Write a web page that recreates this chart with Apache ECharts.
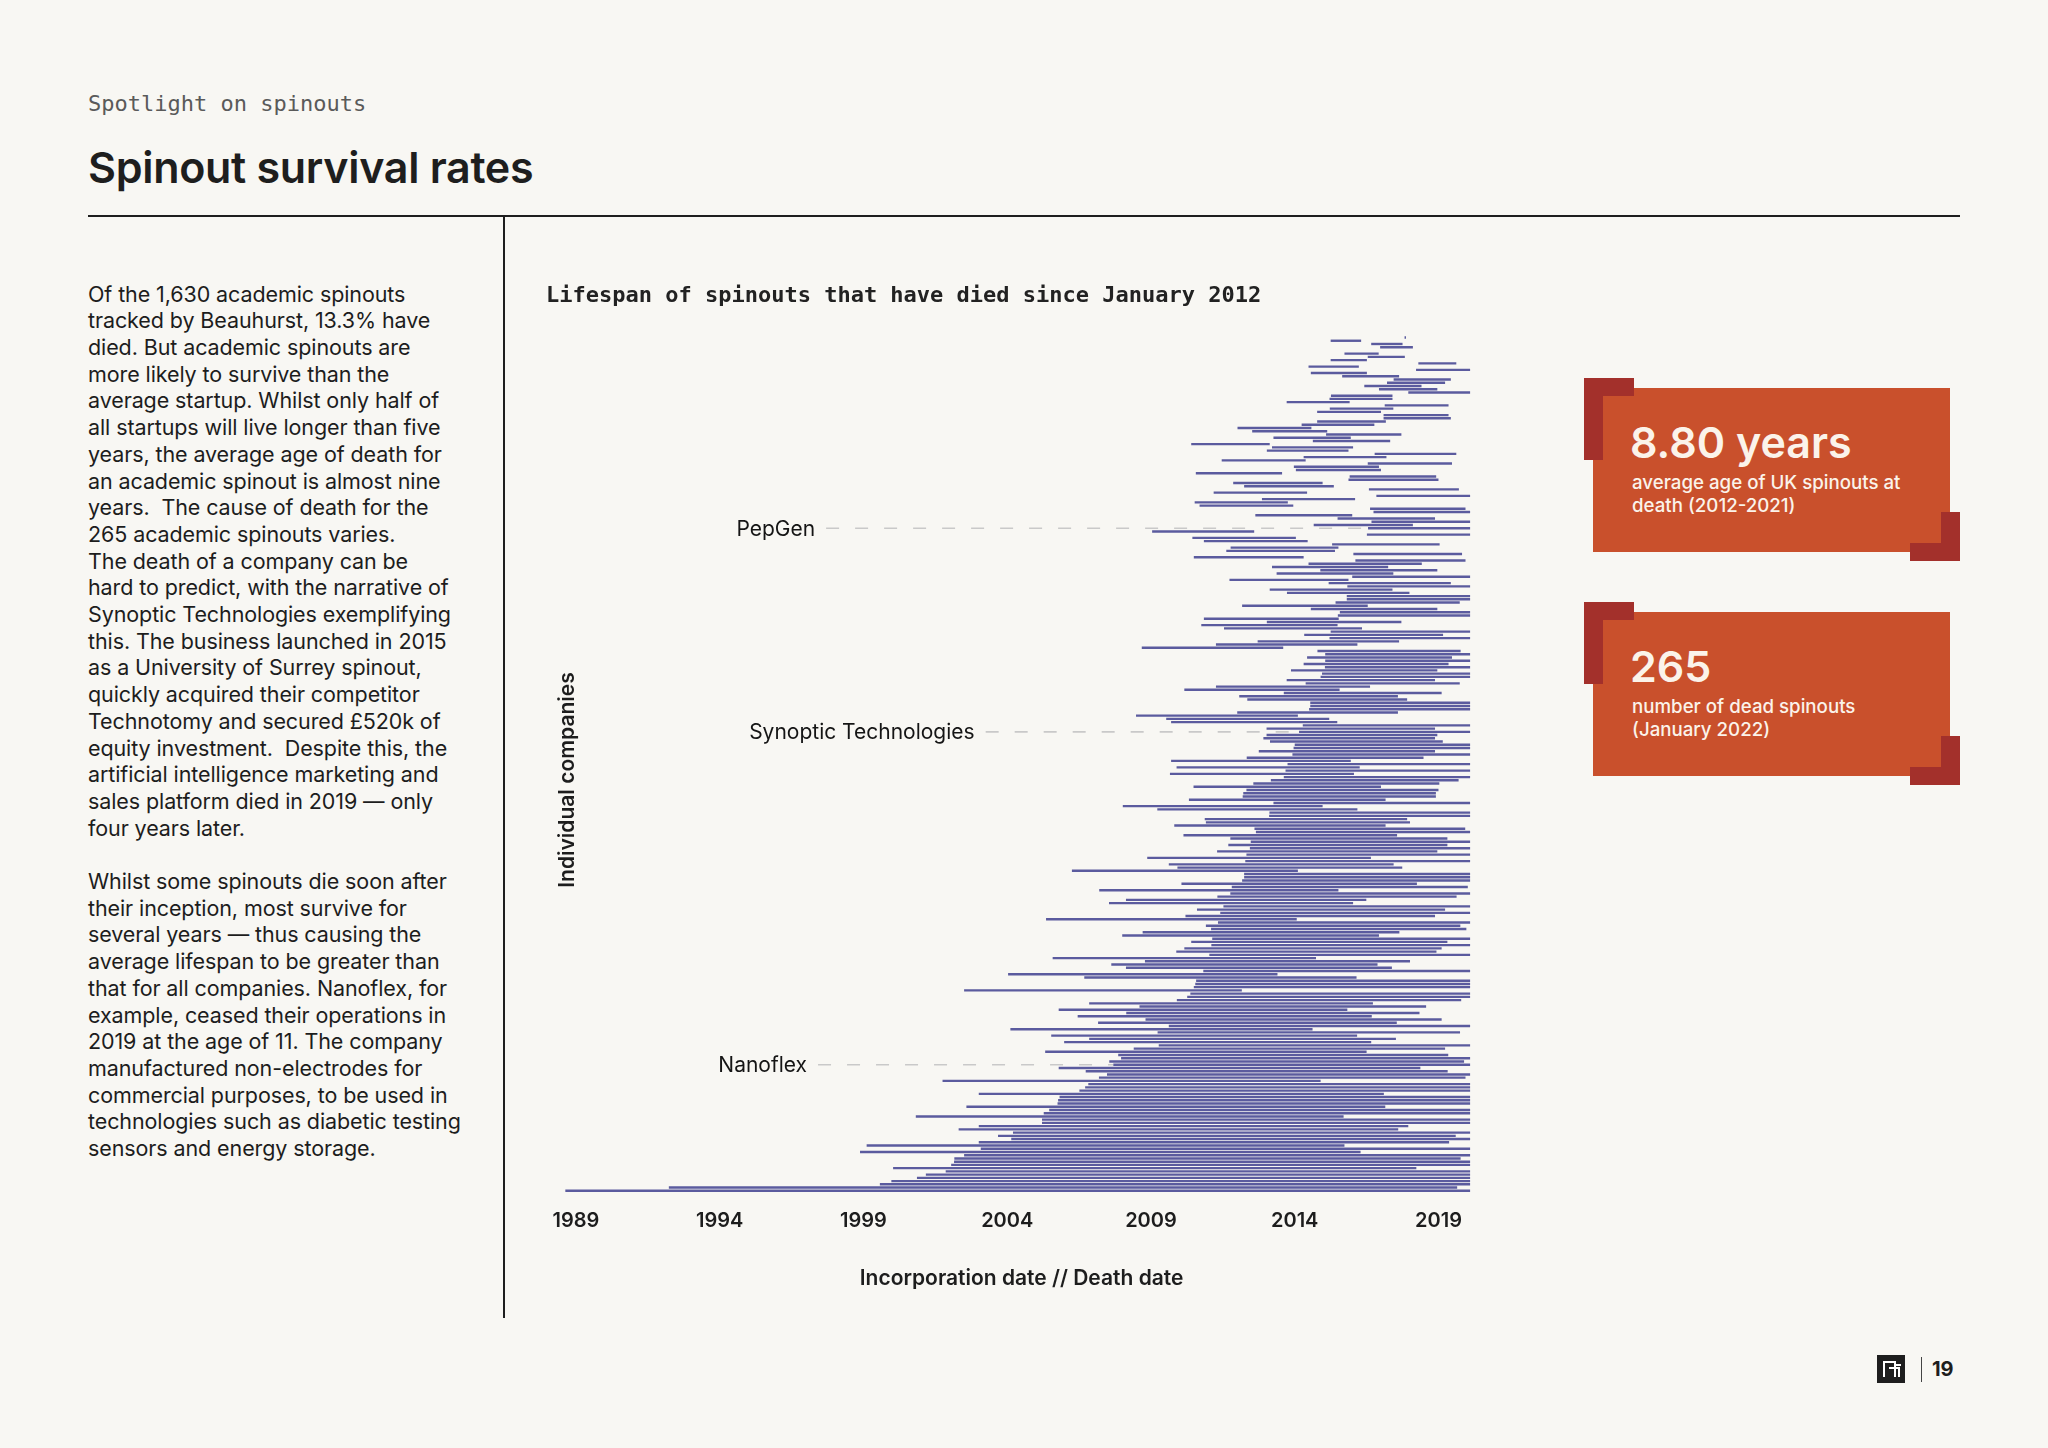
<!DOCTYPE html>
<html><head><meta charset="utf-8">
<script src="https://cdn.jsdelivr.net/npm/echarts@6/dist/echarts.min.js"></script>
<style>
html,body{margin:0;padding:0;width:2048px;height:1448px;background:#f8f7f3;overflow:hidden;}
#page{position:relative;width:2048px;height:1448px;}
#chart{position:absolute;left:0;top:0;width:2048px;height:1448px;}
.abs{position:absolute;white-space:pre;}
.kicker{left:88px;top:93px;font:22px/22px "DejaVu Sans Mono",monospace;color:#5a5a5a;}
.title{left:88px;top:142px;font:600 43px/50px Inter,sans-serif;color:#1e1e1e;letter-spacing:-0.3px;}
.rule{position:absolute;background:#1e1e1e;}
.body{left:88px;top:280.6px;font:400 21.5px/26.7px Inter,sans-serif;color:#1d1d1d;letter-spacing:-0.1px;}
.box{position:absolute;background:#c9502c;}
.br{position:absolute;background:#a3302b;}
.big{font:600 43px/50px Inter,sans-serif;color:#fbf3ea;}
.sub{font:500 18.7px/23.3px Inter,sans-serif;color:#fbf3ea;}
.pg{font:700 20px/26px Inter,sans-serif;color:#1e1e1e;}
</style></head>
<body><div id="page">
<div class="abs kicker">Spotlight on spinouts</div>
<div class="abs title">Spinout survival rates</div>
<div class="rule" style="left:88px;top:215px;width:1872px;height:2px;"></div>
<div class="rule" style="left:503px;top:216px;width:2px;height:1102px;"></div>
<div class="abs body">Of the 1,630 academic spinouts
tracked by Beauhurst, 13.3% have
died. But academic spinouts are
more likely to survive than the
average startup. Whilst only half of
all startups will live longer than five
years, the average age of death for
an academic spinout is almost nine
years.  The cause of death for the
265 academic spinouts varies.
The death of a company can be
hard to predict, with the narrative of
Synoptic Technologies exemplifying
this. The business launched in 2015
as a University of Surrey spinout,
quickly acquired their competitor
Technotomy and secured £520k of
equity investment.  Despite this, the
artificial intelligence marketing and
sales platform died in 2019 — only
four years later.

Whilst some spinouts die soon after
their inception, most survive for
several years — thus causing the
average lifespan to be greater than
that for all companies. Nanoflex, for
example, ceased their operations in
2019 at the age of 11. The company
manufactured non-electrodes for
commercial purposes, to be used in
technologies such as diabetic testing
sensors and energy storage.</div>

<div class="box" style="left:1593px;top:388px;width:357px;height:164px;"></div>
<div class="br" style="left:1584px;top:378px;width:50px;height:18px;"></div>
<div class="br" style="left:1584px;top:378px;width:19px;height:82px;"></div>
<div class="br" style="left:1941px;top:512px;width:19px;height:49px;"></div>
<div class="br" style="left:1910px;top:543px;width:50px;height:18px;"></div>
<div class="abs big" style="left:1630px;top:417px;">8.80 years</div>
<div class="abs sub" style="left:1632px;top:471px;">average age of UK spinouts at
death (2012-2021)</div>

<div class="box" style="left:1593px;top:612px;width:357px;height:164px;"></div>
<div class="br" style="left:1584px;top:602px;width:50px;height:18px;"></div>
<div class="br" style="left:1584px;top:602px;width:19px;height:82px;"></div>
<div class="br" style="left:1941px;top:736px;width:19px;height:49px;"></div>
<div class="br" style="left:1910px;top:767px;width:50px;height:18px;"></div>
<div class="abs big" style="left:1630px;top:641px;">265</div>
<div class="abs sub" style="left:1632px;top:695px;">number of dead spinouts
(January 2022)</div>

<div style="position:absolute;left:1877px;top:1355px;width:28px;height:28px;background:#1e1e1e;">
  <div style="position:absolute;left:6px;top:6px;width:13px;height:16px;border-top:2px solid #fff;border-left:2px solid #fff;border-right:2px solid #fff;box-sizing:border-box;"></div>
  <div style="position:absolute;left:12px;top:12px;width:11px;height:10px;border-top:2px solid #fff;border-right:2px solid #fff;box-sizing:border-box;"></div>
  <div style="position:absolute;left:19px;top:9px;width:5px;height:2px;background:#fff;"></div>
</div>
<div class="rule" style="left:1921px;top:1357px;width:1px;height:25px;background:#444;"></div>
<div class="abs pg" style="left:1932px;top:1356px;">19</div>

<div id="chart"></div>
</div>
<script>
// Incorporation (start) and death (end) dates, decimal years, top row first
const incorporation = [
2017.82,2015.25,2016.66,2016.97,2016.90,2015.73,2016.54,2015.25,2018.30,2014.48,
2018.22,2014.56,2015.65,2017.44,2017.21,2016.42,2016.93,2017.95,2015.26,2015.21,
2013.72,2017.13,2015.22,2014.78,2017.09,2017.09,2014.78,2014.24,2012.01,2012.52,
2015.09,2013.26,2014.63,2010.40,2013.21,2013.03,2016.78,2014.31,2011.46,2016.54,
2013.97,2014.04,2010.56,2015.91,2015.87,2011.86,2012.24,2016.58,2011.18,2016.84,
2012.86,2010.52,2010.69,2016.62,2016.74,2012.63,2015.49,2016.67,2014.66,2016.55,
2009.04,2016.51,2010.44,2010.84,2015.30,2011.77,2011.62,2016.04,2010.49,2016.11,
2014.48,2013.21,2014.89,2013.37,2016.00,2011.73,2015.18,2015.83,2013.13,2013.73,
2015.81,2015.81,2015.42,2012.17,2014.56,2015.57,2015.50,2010.84,2013.03,2010.75,
2011.54,2015.25,2014.33,2015.21,2012.71,2011.26,2008.68,2014.79,2015.06,2014.43,
2015.06,2014.31,2015.05,2013.87,2014.95,2014.90,2013.72,2014.38,2011.26,2010.16,
2013.62,2012.07,2012.35,2014.54,2014.54,2014.50,2012.00,2008.48,2009.53,2009.70,
2014.28,2013.02,2014.15,2013.02,2012.91,2013.14,2014.00,2013.96,2012.75,2013.92,
2012.33,2009.70,2013.75,2009.89,2013.68,2009.66,2013.62,2013.17,2012.56,2010.48,
2012.32,2012.21,2012.19,2010.32,2013.26,2008.02,2009.22,2013.12,2013.11,2010.87,
2010.91,2009.81,2012.60,2012.65,2010.13,2011.76,2012.47,2011.69,2012.44,2011.30,
2012.32,2008.87,2012.28,2009.62,2009.92,2006.25,2012.24,2012.24,2012.17,2010.06,
2011.81,2007.20,2011.76,2011.31,2008.13,2007.54,2011.52,2010.60,2011.41,2010.20,
2005.35,2011.33,2010.91,2011.09,2008.71,2008.00,2011.13,2010.40,2011.10,2010.16,
2009.88,2011.03,2005.58,2008.79,2007.62,2008.13,2010.82,2004.03,2006.68,2010.57,
2010.54,2010.49,2002.50,2010.37,2010.26,2009.90,2006.85,2008.60,2005.79,2008.14,
2006.45,2008.81,2007.16,2009.62,2004.11,2009.23,2005.53,2006.85,2005.98,2009.27,
2008.40,2005.32,2007.86,2007.96,2007.55,2007.69,2005.79,2006.73,2007.47,2007.19,
2001.75,2006.82,2006.71,2006.51,2003.01,2005.82,2005.77,2005.75,2002.58,2005.46,
2005.27,2000.82,2005.21,2005.21,2003.01,2002.31,2004.20,2003.68,2004.14,2003.01,
1999.11,2003.08,1998.88,2002.50,2002.16,2002.15,2002.05,2000.03,2001.86,2001.17,
2000.86,1999.97,1999.57,1992.23,1988.63
];
const death = [
2017.87,2016.31,2017.75,2018.11,2016.90,2016.92,2017.83,2016.51,2019.62,2016.23,
2020.10,2016.51,2017.63,2019.43,2019.23,2018.41,2018.96,2020.10,2017.40,2017.40,
2015.91,2019.35,2017.43,2017.00,2019.35,2019.43,2017.17,2016.77,2014.58,2015.13,
2017.71,2015.95,2017.32,2013.13,2016.03,2015.87,2019.62,2017.19,2014.38,2019.47,
2016.93,2017.00,2013.56,2018.92,2019.00,2014.97,2015.36,2019.71,2014.43,2020.10,
2016.10,2013.76,2013.95,2019.94,2020.10,2016.00,2018.88,2020.10,2018.11,2020.10,
2012.59,2020.10,2014.04,2014.45,2019.04,2015.52,2015.40,2019.82,2014.31,2019.94,
2018.42,2017.25,2018.96,2017.43,2020.10,2015.87,2019.43,2020.10,2017.40,2017.99,
2020.10,2020.10,2019.74,2016.54,2018.96,2020.10,2020.10,2015.53,2017.71,2015.49,
2016.34,2020.10,2019.16,2020.10,2017.63,2016.18,2013.60,2019.77,2020.10,2019.47,
2020.10,2019.35,2020.10,2018.96,2020.10,2020.10,2018.88,2019.74,2016.62,2015.56,
2019.11,2017.59,2017.91,2020.10,2020.10,2020.10,2017.59,2014.11,2015.20,2015.48,
2020.10,2018.88,2020.10,2018.96,2018.88,2019.15,2020.10,2020.10,2018.88,2020.10,
2018.48,2015.95,2020.10,2016.26,2020.10,2016.06,2020.10,2019.70,2019.03,2017.00,
2019.00,2018.91,2018.91,2017.16,2020.10,2014.97,2016.18,2020.10,2020.10,2017.91,
2018.01,2017.16,2019.93,2020.10,2017.56,2019.31,2020.10,2019.31,2020.10,2018.96,
2020.10,2016.65,2020.10,2017.44,2017.74,2014.11,2020.10,2020.10,2020.10,2018.25,
2020.02,2015.52,2020.10,2019.63,2016.49,2016.03,2020.10,2019.23,2020.10,2018.88,
2014.07,2020.10,2019.76,2019.97,2017.64,2016.93,2020.10,2019.31,2020.10,2019.11,
2018.93,2020.10,2014.74,2018.01,2016.88,2017.38,2020.10,2013.40,2016.15,2020.10,
2020.10,2020.10,2012.16,2020.10,2020.10,2019.79,2016.72,2018.57,2015.83,2018.34,
2016.68,2019.11,2017.55,2020.10,2014.62,2019.75,2016.17,2017.52,2016.66,2020.10,
2019.23,2016.50,2019.34,2020.10,2019.89,2020.10,2018.37,2019.32,2020.10,2019.94,
2014.90,2020.10,2020.10,2020.10,2017.10,2020.10,2020.10,2020.10,2017.15,2020.10,
2020.10,2015.70,2020.10,2020.10,2017.95,2017.60,2020.10,2019.60,2020.10,2019.37,
2015.73,2020.10,2016.29,2020.10,2019.77,2020.10,2020.10,2018.23,2020.10,2020.10,
2020.10,2020.10,2020.10,2019.65,2020.10
];
const yearTicks = [1989, 1994, 1999, 2004, 2009, 2014, 2019];
const annotationNames = ['PepGen', 'Synoptic Technologies', 'Nanoflex'];
const annotationRows = [59, 122, 225];

// layout: year where each leader line begins
const leaderFrom = [1997.70, 2003.25, 1997.42];

const companyIndex = incorporation.map((_, i) => i);
const BAR = '#5b5b9e';
const SANS = 'Inter';

function renderBar(params, api) {
  const row = api.value(2);
  const p0 = api.coord([api.value(0), row]);
  const p1 = api.coord([api.value(1), row]);
  const h = api.size([0, 1])[1] * 0.74;
  const w = Math.max(0, p1[0] - p0[0]);
  if (w <= 0) return null;
  return { type: 'rect', shape: { x: p0[0], y: p0[1] - h / 2, width: w, height: h }, style: { fill: BAR } };
}
function renderAnn(params, api) {
  const row = api.value(1);
  const p0 = api.coord([api.value(0), row]);
  const p1 = api.coord([api.value(2), row]);
  return { type: 'group', children: [
    { type: 'line', shape: { x1: p0[0], y1: p0[1], x2: p1[0], y2: p1[1] },
      style: { stroke: '#c9c9c9', lineWidth: 1.6, lineDash: [13, 16] } },
    { type: 'text', x: p0[0] - 11, y: p0[1] + 1,
      style: { text: annotationNames[params.dataIndex], fontFamily: SANS, fontSize: 21, fill: '#151515', align: 'right', verticalAlign: 'middle' } }
  ]};
}

const chart = echarts.init(document.getElementById('chart'), null, { renderer: 'canvas' });
chart.setOption({
  animation: false,
  backgroundColor: 'transparent',
  title: { text: 'Lifespan of spinouts that have died since January 2012', left: 541, top: 278,
    textStyle: { fontFamily: 'DejaVu Sans Mono', fontWeight: 'bold', fontSize: 22, color: '#222', lineHeight: 26 } },
  grid: { left: 561.6, top: 335.9, width: 920, height: 856.5 },
  xAxis: {
    type: 'value', min: 1988.5, max: 2020.5,
    splitLine: { show: false }, axisLine: { show: false }, axisTick: { show: false },
    axisLabel: { customValues: yearTicks, formatter: v => String(Math.round(v)), fontFamily: SANS, fontSize: 20, fontWeight: 600, color: '#1d1d1d', margin: 19 },
    name: 'Incorporation date // Death date', nameLocation: 'middle', nameGap: 76,
    nameTextStyle: { fontFamily: SANS, fontSize: 21, fontWeight: 600, color: '#1d1d1d' }
  },
  yAxis: { type: 'category', data: companyIndex, inverse: true, show: false },
  graphic: [{ type: 'text', x: 568, y: 780, rotation: Math.PI / 2,
    style: { text: 'Individual companies', fontFamily: SANS, fontSize: 21, fontWeight: 600, fill: '#1d1d1d', align: 'center', verticalAlign: 'middle' } }],
  series: [
    { type: 'custom', z: 1, renderItem: renderAnn, encode: { x: [0, 2], y: 1 },
      data: annotationRows.map((r, k) => [leaderFrom[k], r, incorporation[r]]) },
    { type: 'custom', z: 2, renderItem: renderBar, encode: { x: [0, 1], y: 2 },
      data: companyIndex.map(i => [incorporation[i], death[i], i]) }
  ]
});
</script>
</body></html>
